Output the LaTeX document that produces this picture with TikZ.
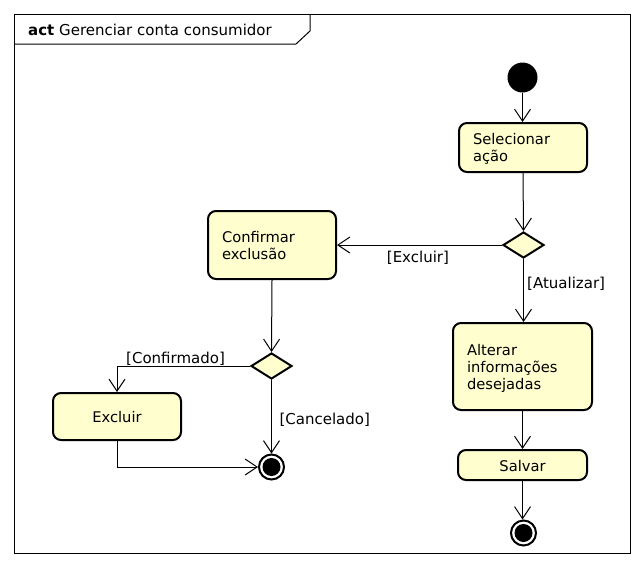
\documentclass[tikz,border=0pt]{standalone}
\usepackage{fontspec}
\setmainfont{DejaVu Sans}
\usetikzlibrary{arrows.meta,shapes.geometric}
\definecolor{actfill}{HTML}{FEFECE}
\begin{document}
\begin{tikzpicture}[x=1pt,y=-1pt,
  txt/.style={font=\fontsize{14.7}{17}\selectfont},
  actbox/.style={draw, line width=2pt, fill=actfill, rounded corners=8pt, txt, align=left, inner xsep=14pt, inner ysep=0pt,
    execute at begin node={\rule{0pt}{15pt}}, execute at end node={\rule[-4pt]{0pt}{4pt}}},
  onebox/.style={actbox, align=center,
    execute at begin node={\rule{0pt}{16pt}}, execute at end node={\rule[-3pt]{0pt}{3pt}}},
  decision/.style={draw, line width=2pt, fill=actfill, diamond, minimum width=41pt, minimum height=26pt, inner sep=0pt},
  startnode/.style={circle, fill=black, minimum size=30pt, inner sep=0pt},
  endnode/.style={circle, draw, line width=2pt, fill=white, minimum size=25pt, inner sep=0pt,
    path picture={\fill[black] (path picture bounding box.center) circle (9pt);}},
  flow/.style={draw, line width=1pt, -{Straight Barb[length=12pt,width=16pt]}},
  guard/.style={font=\fontsize{15}{17}\selectfont, anchor=base west, inner sep=0pt},
]
\useasboundingbox (0,0) rectangle (644,568);
% frame
\draw[line width=1pt] (14,14) rectangle (630,553);
\draw[line width=1pt] (310,14) -- (310,31) -- (296,44) -- (14,44);
\node[guard] (title) at (28,35) {\textbf{act} Gerenciar conta consumidor};

% nodes
\node[startnode] (start) at (522.5,77.5) {};
\node[actbox, text width=100pt, minimum height=49pt] (sel) at (523,147.5) {Selecionar\\ação};
\node[decision] (d1) at (523.5,245) {};
\node[actbox, text width=100pt, minimum height=68pt] (conf) at (272,245) {Confirmar\\exclusão};
\node[actbox, text width=111pt, minimum height=87pt] (alt) at (522.5,366.5) {Alterar\\informações\\desejadas};
\node[onebox, text width=101pt, minimum height=30pt] (salvar) at (522.5,465) {Salvar};
\node[endnode] (end2) at (523.5,533) {};
\node[decision] (d2) at (271.5,366) {};
\node[onebox, text width=100pt, minimum height=47pt] (excl) at (117,416.5) {Excluir};
\node[endnode] (end1) at (271.5,467) {};

% connectors
\draw[flow] (start) -- (sel.north -| start);
\draw[flow] (sel.south) -- (d1.north);
\draw[flow] (d1.west) -- (conf.east);
\draw[flow] (d1.south) -- (alt.north -| d1.south);
\draw[flow] (alt.south) -- (salvar.north);
\draw[flow] (salvar.south) -- (end2.north -| salvar.south);
\draw[flow] (conf.south) -- (d2.north);
\draw[flow] (d2.west) -| (excl.north);
\draw[flow] (d2.south) -- (end1.north);
\draw[flow] (excl.south) |- (end1.west);

% guards
\node[guard] (gExc) at (386.7,262) {[Excluir]};
\node[guard] (gAtu) at (527,288) {[Atualizar]};
\node[guard] (gConf) at (126,363) {[Confirmado]};
\node[guard] (gCanc) at (279.3,424) {[Cancelado]};
\end{tikzpicture}
\end{document}
